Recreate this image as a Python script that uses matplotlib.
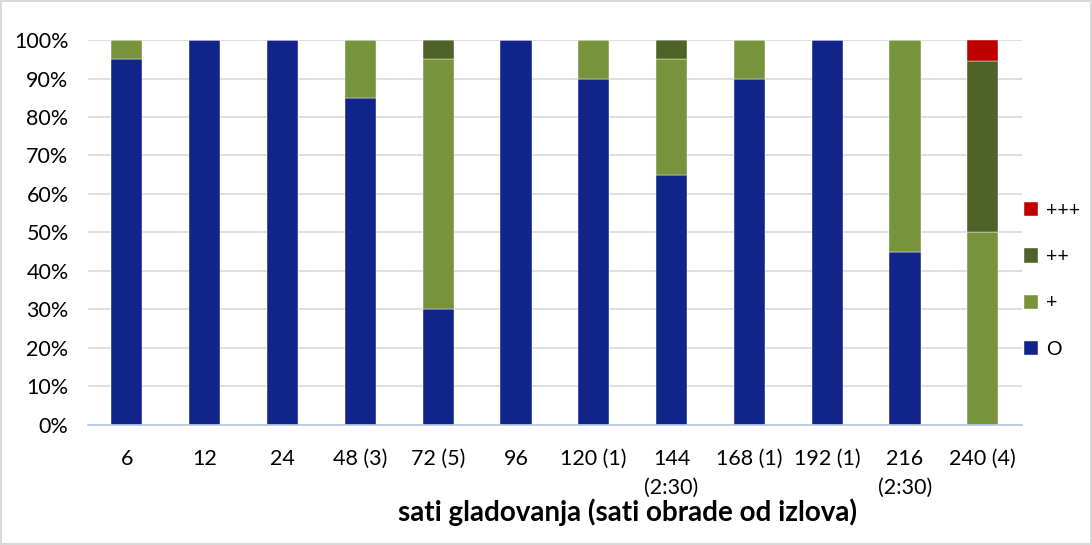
import matplotlib.pyplot as plt
import numpy as np

plt.rcParams['font.family'] = ['Lato', 'DejaVu Sans']

# kategorije (sati gladovanja)
labels = ['6', '12', '24', '48 (3)', '72 (5)', '96', '120 (1)', '144\n(2:30)',
          '168 (1)', '192 (1)', '216\n(2:30)', '240 (4)']

# udjeli po ocjeni (%)
o_vals = [95, 100, 100, 85, 30, 100, 90, 65, 90, 100, 45, 0]
plus_vals = [5, 0, 0, 15, 65, 0, 10, 30, 10, 0, 55, 50]
plus2_vals = [0, 0, 0, 0, 5, 0, 0, 5, 0, 0, 0, 44.5]
plus3_vals = [0, 0, 0, 0, 0, 0, 0, 0, 0, 0, 0, 5.5]

series = [('O', o_vals, '#10248a'),
          ('+', plus_vals, '#77933c'),
          ('++', plus2_vals, '#4f6228'),
          ('+++', plus3_vals, '#c00000')]

fig = plt.figure(figsize=(10.92, 5.45), dpi=100)
fig.patch.set_edgecolor('#d9d9d9')
fig.patch.set_linewidth(1.5)
ax = fig.add_axes([0.0806, 0.2202, 0.855, 0.7064])

x = np.arange(len(labels))
bottom = np.zeros(len(labels))
handles = []
for name, vals, col in series:
    vals = np.array(vals, dtype=float)
    b = ax.bar(x, vals, width=0.4, bottom=bottom, color=col, label=name,
               edgecolor='white', linewidth=0.3, zorder=3)
    handles.append(b)
    bottom += vals

ax.set_xlim(-0.5, len(labels) - 0.5)
ax.set_ylim(0, 100)
ax.set_yticks(np.arange(0, 101, 10))
ax.set_yticklabels([f'{v}%' for v in range(0, 101, 10)])
ax.set_xticks(x)
ax.set_xticklabels(labels, linespacing=1.55)
ax.tick_params(axis='both', length=0, labelsize=15.5, colors='#000000')
ax.tick_params(axis='x', pad=17)
ax.tick_params(axis='y', pad=14)
ax.grid(axis='y', color='#d9d9d9', linewidth=1.2, zorder=0)
for s in ['top', 'right', 'left']:
    ax.spines[s].set_visible(False)
ax.spines['bottom'].set_color('#b4c7e7')
ax.spines['bottom'].set_linewidth(1.2)
ax.spines['bottom'].set_zorder(4)

ax.set_xlabel('sati gladovanja (sati obrade od izlova)', fontsize=20,
              fontweight='bold', labelpad=0)
ax.xaxis.set_label_coords(0.578, -0.19)

ax.legend(handles[::-1], [s[0] for s in series][::-1], loc='center left',
          bbox_to_anchor=(1.0, 0.377), frameon=False, fontsize=14,
          handlelength=0.75, handleheight=0.75, labelspacing=1.5,
          handletextpad=0.4, borderaxespad=0, borderpad=0.1)

fig.savefig('out.png', dpi=100, edgecolor=fig.get_edgecolor())
